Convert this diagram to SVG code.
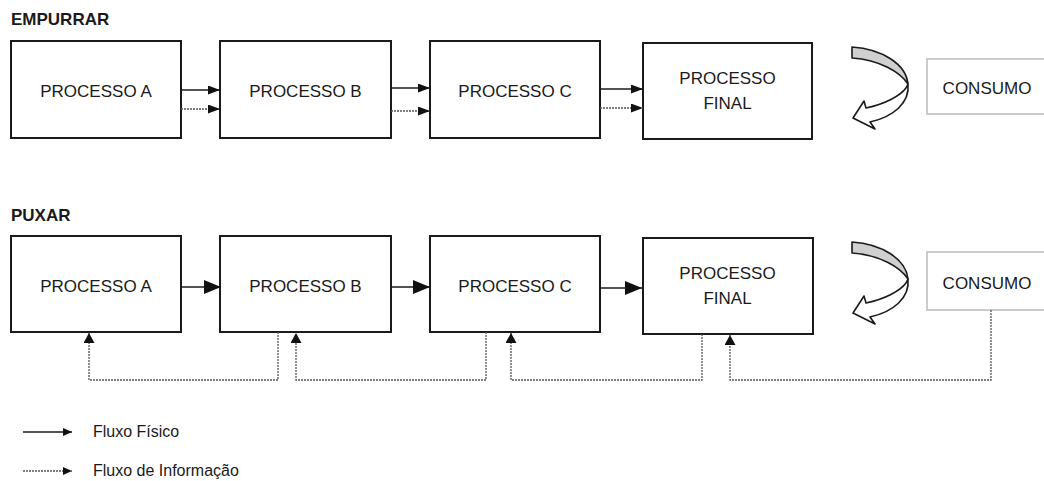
<svg xmlns="http://www.w3.org/2000/svg" width="1044" height="481" viewBox="0 0 1044 481">
<style>
.box{fill:#fff;stroke:#1a1a1a;stroke-width:2}
.cbox{fill:#fff;stroke:#bfbfbf;stroke-width:1.6}
.lbl{font-family:"Liberation Sans",Arial,sans-serif;font-size:17px;fill:#1a1a1a;text-anchor:middle}
.ttl{font-family:"Liberation Sans",Arial,sans-serif;font-size:17px;font-weight:bold;fill:#1a1a1a}
.leg{font-family:"Liberation Sans",Arial,sans-serif;font-size:16px;fill:#1a1a1a}
.solid{fill:none;stroke:#1a1a1a;stroke-width:1.4}
.dot{fill:none;stroke:#555;stroke-width:1.3;stroke-dasharray:2 1}
.curl{stroke:#1a1a1a;stroke-width:1.6;stroke-linejoin:round}
</style>
<defs>
<marker id="ah" markerUnits="userSpaceOnUse" markerWidth="12" markerHeight="10" refX="12" refY="4.5" orient="auto"><path d="M0,0 L12,4.5 L0,9 Z" fill="#111"/></marker>
<marker id="ahb" markerUnits="userSpaceOnUse" markerWidth="18" markerHeight="15" refX="17" refY="7" orient="auto"><path d="M0,0 L17,7 L0,14 Z" fill="#111"/></marker>
<marker id="ahu" markerUnits="userSpaceOnUse" markerWidth="11" markerHeight="12" refX="10" refY="5.5" orient="auto"><path d="M0,0 L10,5.5 L0,11 Z" fill="#111"/></marker>
<marker id="ahl" markerUnits="userSpaceOnUse" markerWidth="10" markerHeight="9" refX="9" refY="4" orient="auto"><path d="M0,0 L9,4 L0,8 Z" fill="#111"/></marker>
<g id="curlShape">
<path class="curl" fill="#d0d0d0" d="M852 47 C882 49 906 64 908 84 C900 72 880 60 852 58 Z"/>
<path class="curl" fill="#fff" d="M908 84 C910 103 893 117 870 122 L875 129 L853 118 L864 101 L866 108 C885 104 900 96 906 88 Z"/>
</g>
</defs>

<text class="ttl" x="11" y="25">EMPURRAR</text>
<text class="ttl" x="11" y="221">PUXAR</text>

<g id="push-a"><rect class="box" x="11" y="41" width="170" height="97"/><text class="lbl" x="96" y="97">PROCESSO A</text></g>
<g id="push-b"><rect class="box" x="220" y="41" width="171" height="97"/><text class="lbl" x="305.5" y="97">PROCESSO B</text></g>
<g id="push-c"><rect class="box" x="430" y="41" width="170" height="97"/><text class="lbl" x="515" y="97">PROCESSO C</text></g>
<g id="push-final"><rect class="box" x="643" y="43" width="169" height="96"/><text class="lbl" x="727.5" y="84">PROCESSO</text><text class="lbl" x="727.5" y="109">FINAL</text></g>
<g id="push-consumo"><rect class="cbox" x="927" y="59" width="120" height="55"/><text class="lbl" x="987" y="94">CONSUMO</text></g>
<g id="push-curl"><use href="#curlShape"/></g>

<g id="pull-a"><rect class="box" x="11" y="236" width="170" height="96"/><text class="lbl" x="96" y="292">PROCESSO A</text></g>
<g id="pull-b"><rect class="box" x="220" y="236" width="171" height="96"/><text class="lbl" x="305.5" y="292">PROCESSO B</text></g>
<g id="pull-c"><rect class="box" x="430" y="236" width="170" height="96"/><text class="lbl" x="515" y="292">PROCESSO C</text></g>
<g id="pull-final"><rect class="box" x="643" y="238" width="170" height="96"/><text class="lbl" x="727.5" y="279">PROCESSO</text><text class="lbl" x="727.5" y="304">FINAL</text></g>
<g id="pull-consumo"><rect class="cbox" x="927" y="252" width="120" height="58"/><text class="lbl" x="987" y="289">CONSUMO</text></g>
<g id="pull-curl"><use href="#curlShape" transform="translate(0,195)"/></g>

<g id="connectors">
<path class="solid" d="M181 90 H220" marker-end="url(#ah)"/>
<path class="dot" d="M181 109 H220" marker-end="url(#ah)"/>
<path class="solid" d="M391 88 H430" marker-end="url(#ah)"/>
<path class="dot" d="M391 111 H430" marker-end="url(#ah)"/>
<path class="solid" d="M600 89 H643" marker-end="url(#ah)"/>
<path class="dot" d="M600 108 H643" marker-end="url(#ah)"/>

<path class="solid" d="M181 287 H221" marker-end="url(#ahb)"/>
<path class="solid" d="M391 287 H430" marker-end="url(#ahb)"/>
<path class="solid" d="M600 288 H642" marker-end="url(#ahb)"/>

<path class="dot" d="M278 332 V380 H89 V333" marker-end="url(#ahu)"/>
<path class="dot" d="M486 332 V380 H296 V333" marker-end="url(#ahu)"/>
<path class="dot" d="M702 334 V380 H511 V333" marker-end="url(#ahu)"/>
<path class="dot" d="M991 310 V380 H730 V335" marker-end="url(#ahu)"/>

<path class="solid" d="M23 432 H72" marker-end="url(#ahl)"/>
<path class="dot" d="M23 471 H72" marker-end="url(#ahl)"/>
</g>
<text class="leg" x="93" y="437">Fluxo Físico</text>
<text class="leg" x="93" y="476">Fluxo de Informação</text>
</svg>
